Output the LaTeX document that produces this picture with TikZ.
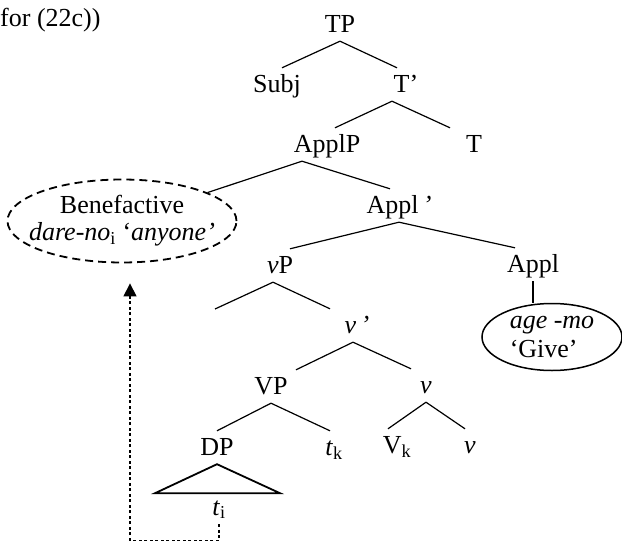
\documentclass[tikz,border=0pt]{standalone}
\usepackage{fontspec}
\setmainfont{Liberation Serif}
\usetikzlibrary{shapes.geometric}
\usetikzlibrary{arrows.meta}
\tikzset{
    every node/.append style={
        font=\fontsize{26}{27}\selectfont
    },
    cat/.style={
        anchor=base,
        inner sep=0pt,
        text height=24pt,
        text depth=9pt
    },
    branch/.style={
        line width=1.2pt
    },
    roof/.style={
        line width=1.8pt,
        line join=miter
    },
    bubble/.style={
        ellipse,
        draw,
        inner xsep=-40pt,
        inner ysep=-14pt
    },
    movement/.style={
        line width=1.2pt,
        dash pattern=on 3pt off 2.5pt,
        -{Triangle[length=13pt,width=13pt]}
    }
}

\begin{document}
\begin{tikzpicture}[x=1pt,y=-1pt]
                \useasboundingbox (0,0) rectangle (622,541);
                \node[anchor=base west, inner sep=0pt] (src) at (0,26) {for (22c))};

                \node[cat] (TP) at (340,32) {TP};
                \node[cat] (Subj) at (277,92) {Subj};
                \node[cat] (Tbar) at (406,92) {T’};
                \node[cat] (ApplP) at (327,152) {ApplP};
                \node[cat] (T) at (474,152) {T};
                \node[cat] (Applbar) at (399,213) {Appl\,\textit{’}};
                \node[cat] (vP) at (280,273) {\textit{v}P};
                \node[cat] (Appl) at (533,272) {Appl};
                \node[cat] (vbar) at (357,333) {\textit{v}\,\textit{’}};
                \node[cat] (VP) at (271,394) {VP};
                \node[cat] (vmid) at (426,393) {\textit{v}};
                \node[cat] (DP) at (217,455) {DP};
                \node[cat] (tk) at (334,455) {\textit{t}\textsubscript{k}};
                \node[cat] (Vk) at (397,453) {V\textsubscript{k}};
                \node[cat] (vlow) at (470,453) {\textit{v}};
                \node[cat] (ti) at (219,515) {\textit{t}\textsubscript{i}};
                \coordinate (vPspec) at (215,309);

                \node[bubble, line width=1.8pt, dash pattern=on 8pt off 5pt,
                      minimum width=229pt, minimum height=83pt, align=center] (bene) at (122,221)
                      {Benefactive\\\textit{dare-no}\textsubscript{i} ‘\textit{anyone’}};
                \node[bubble, line width=1.5pt, minimum width=140pt, minimum height=67pt,
                      align=left, font=\fontsize{26}{29}\selectfont] (agemo) at (552,337)
                      {\textit{age -mo}\\‘Give’};

                \draw[branch] (TP.south) -- ([xshift=5pt]Subj.north);
                \draw[branch] (TP.south) -- ([xshift=-9pt]Tbar.north);
                \draw[branch] ([xshift=-14pt]Tbar.south) -- ([xshift=8pt]ApplP.north);
                \draw[branch] ([xshift=-14pt]Tbar.south) -- ([xshift=-24pt]T.north);
                \draw[branch] ([xshift=-25pt]ApplP.south) -- (bene);
                \draw[branch] ([xshift=-25pt]ApplP.south) -- ([xshift=-9pt]Applbar.north);
                \draw[branch] (Applbar.south) -- ([xshift=10pt]vP.north);
                \draw[branch] (Applbar.south) -- ([xshift=-18pt]Appl.north);
                \draw[branch] (Appl.south) -- (Appl.south |- agemo.north);
                \draw[branch] ([xshift=-7pt]vP.south) -- (vPspec);
                \draw[branch] ([xshift=-7pt]vP.south) -- ([xshift=-27pt]vbar.north);
                \draw[branch] ([xshift=-4pt]vbar.south) -- ([xshift=25pt]VP.north);
                \draw[branch] ([xshift=-4pt]vbar.south) -- ([xshift=-15pt]vmid.north);
                \draw[branch] (VP.south) -- (DP.north);
                \draw[branch] (VP.south) -- ([xshift=-4pt]tk.north);
                \draw[branch] (vmid.south) -- ([xshift=-9pt]Vk.north);
                \draw[branch] (vmid.south) -- ([xshift=-5pt]vlow.north);
                \draw[roof] (DP.south) -- ++(-62,29) -- ++(125,0) -- cycle;

                \draw[movement] (ti.south) -- ++(0,16) -| ([xshift=8pt,yshift=-20pt]bene.south);
            \end{tikzpicture}
\end{document}
